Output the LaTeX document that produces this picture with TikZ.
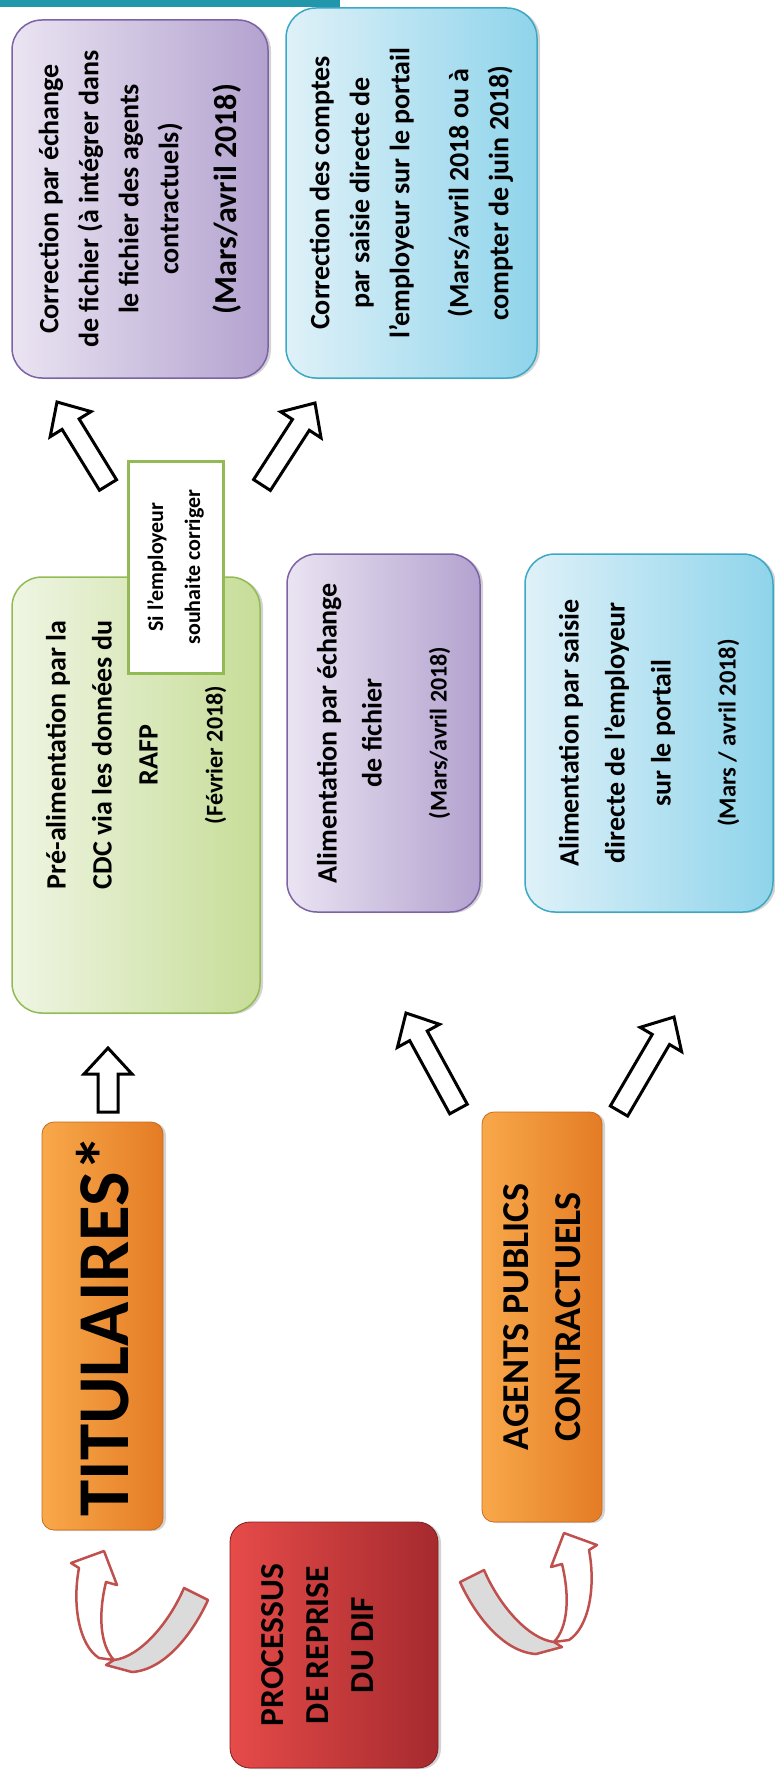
\documentclass[tikz,border=0pt]{standalone}
\usepackage{fontspec}
\setmainfont{Carlito}
\usepackage{tikz}
\usetikzlibrary{calc,shadows}

\definecolor{lilacL}{HTML}{EAE4F2}
\definecolor{lilacD}{HTML}{B3A2CF}
\definecolor{lilacB}{HTML}{7D63A6}
\definecolor{skyL}{HTML}{DFF1F8}
\definecolor{skyD}{HTML}{8FD4EB}
\definecolor{skyB}{HTML}{3DA8C4}
\definecolor{leafL}{HTML}{EFF5E3}
\definecolor{leafD}{HTML}{C7DD98}
\definecolor{leafB}{HTML}{93BB55}
\definecolor{amberL}{HTML}{F8A84A}
\definecolor{amberD}{HTML}{E47C25}
\definecolor{amberB}{HTML}{C96A1C}
\definecolor{brickL}{HTML}{E64B49}
\definecolor{brickD}{HTML}{A52A2E}
\definecolor{brickB}{HTML}{7E1E22}
\definecolor{turnred}{HTML}{C0504D}
\definecolor{barteal}{HTML}{2296AB}

\tikzset{
  turn line/.style={draw=turnred,line width=2.5pt,line join=round},
  uturn/.pic={
    \draw[turn line,fill=black!14] (-150,-57) -- (-126,-45) .. controls (-142,-10) and (-170,25) .. (-202,27)
      -- (-228,20) -- (-220,15) .. controls (-195,12) and (-166,-20) .. (-150,-57) -- cycle;
    \draw[turn line,fill=white] (-235,13) .. controls (-255,0) and (-262,-40) .. (-255,-77) -- (-263,-82)
      -- (-230,-94) -- (-217,-60) -- (-228,-63) .. controls (-236,-30) and (-234,0) .. (-220,15) -- cycle;
  }
}

\begin{document}
\begin{tikzpicture}[x=1pt,y=-1pt,
  box/.style={rounded corners=30pt,rotate=90,align=center,line width=1.5pt,
    font=\bfseries\fontsize{28}{40}\selectfont,
    drop shadow={opacity=.35,shadow xshift=3pt,shadow yshift=-1pt}},
  lilac node/.style={box,draw=lilacB,left color=lilacL,right color=lilacD},
  sky node/.style={box,draw=skyB,left color=skyL,right color=skyD},
  leaf node/.style={box,draw=leafB,left color=leafL,right color=leafD},
  amber node/.style={box,rounded corners=12pt,line width=.8pt,draw=amberB,left color=amberL,right color=amberD},
  brick node/.style={box,rounded corners=20pt,line width=.8pt,draw=brickB,left color=brickL,right color=brickD},
  note node/.style={rotate=90,align=center,draw=leafB,line width=3pt,fill=white,
    font=\bfseries\fontsize{22}{37}\selectfont},
  hollow/.style={draw=black,fill=white,line width=3pt,to path={
    -- ($(\tikztostart)!10pt!90:(\tikztotarget)$)
    -- ($(\tikztotarget)!27.86pt!-21.04:(\tikztostart)$)
    -- ($(\tikztotarget)!35.4pt!-42.7:(\tikztostart)$)
    -- (\tikztotarget)
    -- ($(\tikztotarget)!35.4pt!42.7:(\tikztostart)$)
    -- ($(\tikztotarget)!27.86pt!21.04:(\tikztostart)$)
    -- ($(\tikztostart)!10pt!-90:(\tikztotarget)$) -- cycle}}]

  \useasboundingbox (0,0) rectangle (774,1771);
  \fill[barteal] (0,0) rectangle (340,7);

  \node[lilac node,minimum width=358pt,minimum height=256pt] (corr1) at (140,199)
    {Correction par échange\\de fichier (à intégrer dans\\le fichier des agents\\contractuels)\\[18pt]{\fontsize{32}{40}\selectfont(Mars/avril 2018)}};
  \node[sky node,minimum width=370pt,minimum height=251pt] (corr2) at (411.5,193)
    {Correction des comptes\\par saisie directe de\\l’employeur sur le portail\\[19pt](Mars/avril 2018 ou à\\compter de juin 2018)};
  \node[leaf node,minimum width=436pt,minimum height=248pt,font=\bfseries\fontsize{28}{46}\selectfont] (pre) at (136,795)
    {\rule{80pt}{0pt}\parbox{300pt}{\centering Pré-alimentation par la\\CDC via les données du\\RAFP\\[19pt]{\fontsize{24}{46}\selectfont(Février 2018)}}};
  \node[note node,minimum width=212pt,minimum height=95pt] (si) at (175.5,567) {Si l’employeur\\souhaite corriger};
  \node[lilac node,minimum width=358pt,minimum height=193pt,font=\bfseries\fontsize{28}{45}\selectfont] (alim1) at (383.5,733)
    {Alimentation par échange\\de fichier\\[20pt]{\fontsize{24}{45}\selectfont(Mars/avril 2018)}};
  \node[sky node,minimum width=358pt,minimum height=248pt,font=\bfseries\fontsize{28}{46}\selectfont] (alim2) at (649,733)
    {Alimentation par saisie\\directe de l’employeur\\sur le portail\\[19pt]{\fontsize{24.5}{46}\selectfont(Mars / avril 2018)}};
  \node[amber node,minimum width=408pt,minimum height=121pt,font=\bfseries\fontsize{73}{80}\selectfont] (tit) at (102.5,1326) {TITULAIRES*};
  \node[amber node,minimum width=410pt,minimum height=120pt,font=\bfseries\fontsize{38}{52}\selectfont] (agents) at (542,1317)
    {AGENTS PUBLICS\\CONTRACTUELS};
  \node[brick node,minimum width=246pt,minimum height=208pt,font=\bfseries\fontsize{33.5}{45}\selectfont] (proc) at (334,1645)
    {PROCESSUS\\DE REPRISE\\DU DIF\rule[-32pt]{0pt}{32pt}};

  \coordinate (a1) at ($(si.center)+(-67.5,-82)$);
  \coordinate (b1) at ($(corr1.center)+(-83,203)$);
  \coordinate (a2) at ($(si.center)+(86.5,-82)$);
  \coordinate (b2) at ($(corr2.center)+(-96.5,210)$);
  \coordinate (a3) at ($(tit.center)+(5.5,-214)$);
  \coordinate (b3) at ($(pre.center)+(-28,253)$);
  \coordinate (a4) at ($(agents.center)+(-83.5,-208)$);
  \coordinate (b4) at ($(alim1.center)+(22.5,280)$);
  \coordinate (a5) at ($(agents.center)+(77,-206)$);
  \coordinate (b5) at ($(alim2.center)+(25,284)$);

  \path (a1) edge[hollow] (b1)
        (a2) edge[hollow] (b2)
        (a3) edge[hollow] (b3)
        (a4) edge[hollow] (b4)
        (a5) edge[hollow] (b5);

  \pic at (proc.center) {uturn};
  \pic[xscale=-1] at ($(proc.center)+(0,-18)$) {uturn};
\end{tikzpicture}
\end{document}
